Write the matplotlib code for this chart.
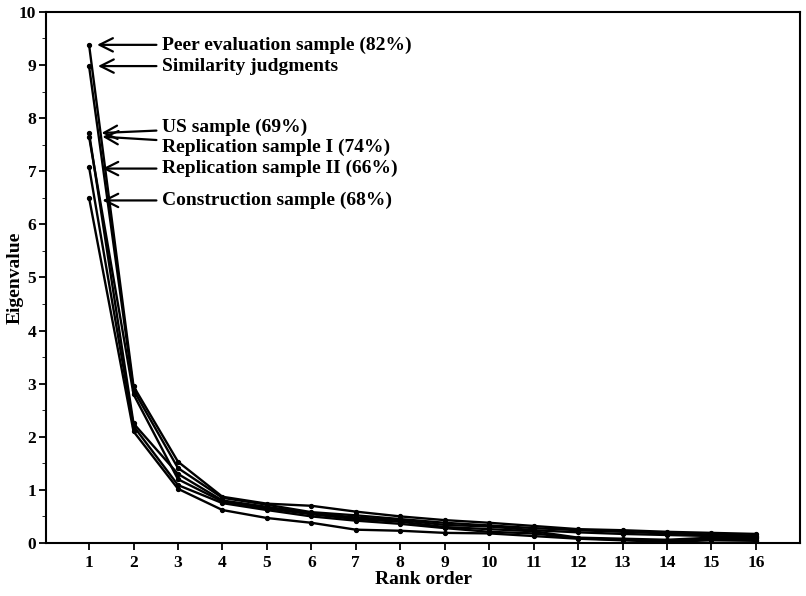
import matplotlib.pyplot as plt
from matplotlib.ticker import MultipleLocator

plt.rcParams['font.family'] = ['Liberation Serif', 'DejaVu Serif']

ranks = list(range(1, 17))

peer = [9.38, 2.95, 1.53, 0.87, 0.74, 0.70, 0.59, 0.50, 0.43, 0.38, 0.32, 0.26, 0.24, 0.21, 0.19, 0.17]
similarity = [8.98, 2.88, 1.41, 0.85, 0.72, 0.58, 0.52, 0.45, 0.38, 0.33, 0.28, 0.24, 0.21, 0.18, 0.16, 0.14]
us = [7.72, 2.25, 1.30, 0.80, 0.68, 0.56, 0.48, 0.43, 0.34, 0.31, 0.24, 0.20, 0.17, 0.15, 0.13, 0.11]
rep1 = [7.65, 2.80, 1.20, 0.78, 0.65, 0.54, 0.45, 0.40, 0.30, 0.26, 0.22, 0.10, 0.08, 0.06, 0.10, 0.09]
rep2 = [7.08, 2.20, 1.09, 0.75, 0.62, 0.50, 0.42, 0.36, 0.28, 0.21, 0.18, 0.09, 0.06, 0.04, 0.08, 0.06]
construction = [6.50, 2.10, 1.02, 0.62, 0.47, 0.38, 0.25, 0.23, 0.19, 0.18, 0.13, 0.08, 0.05, 0.02, 0.05, 0.04]

series = [peer, similarity, us, rep1, rep2, construction]

# label, text y, arrow tip (x, y)
labels = [
    ("Peer evaluation sample (82%)", 9.38, (1.18, 9.38)),
    ("Similarity judgments", 8.98, (1.2, 8.98)),
    ("US sample (69%)", 7.83, (1.28, 7.72)),
    ("Replication sample I (74%)", 7.45, (1.3, 7.65)),
    ("Replication sample II (66%)", 7.05, (1.3, 7.05)),
    ("Construction sample (68%)", 6.45, (1.3, 6.45)),
]

fig = plt.figure(figsize=(8.06, 5.96), dpi=100)
ax = fig.add_axes([0.057, 0.089, 0.936, 0.891])

for s in series:
    ax.plot(ranks, s, color='black', lw=1.7, marker='o', markersize=2.8)

for text, ty, tip in labels:
    ax.annotate(text, xy=tip, xytext=(2.64, ty), fontsize=14, fontweight='bold',
                va='center', ha='left',
                arrowprops=dict(arrowstyle='->', color='black', lw=1.6, mutation_scale=24,
                                shrinkA=2, shrinkB=0))

ax.set_xlim(0.03, 17)
ax.set_ylim(0, 10)
ax.set_xticks(ranks)
ax.yaxis.set_major_locator(MultipleLocator(1))
ax.yaxis.set_minor_locator(MultipleLocator(0.5))
ax.tick_params(axis='both', direction='out', labelsize=12.5, width=1.3, length=5)
ax.tick_params(axis='y', pad=2)
ax.tick_params(axis='y', which='minor', length=3)
for lab in ax.get_xticklabels() + ax.get_yticklabels():
    lab.set_fontweight('bold')
for sp in ax.spines.values():
    sp.set_linewidth(1.5)

ax.set_xlabel("Rank order", fontsize=14, fontweight='bold', labelpad=0)
ax.set_ylabel("Eigenvalue", fontsize=14, fontweight='bold')
ax.yaxis.set_label_coords(-0.03, 0.5)

fig.savefig("out.png", dpi=100)
